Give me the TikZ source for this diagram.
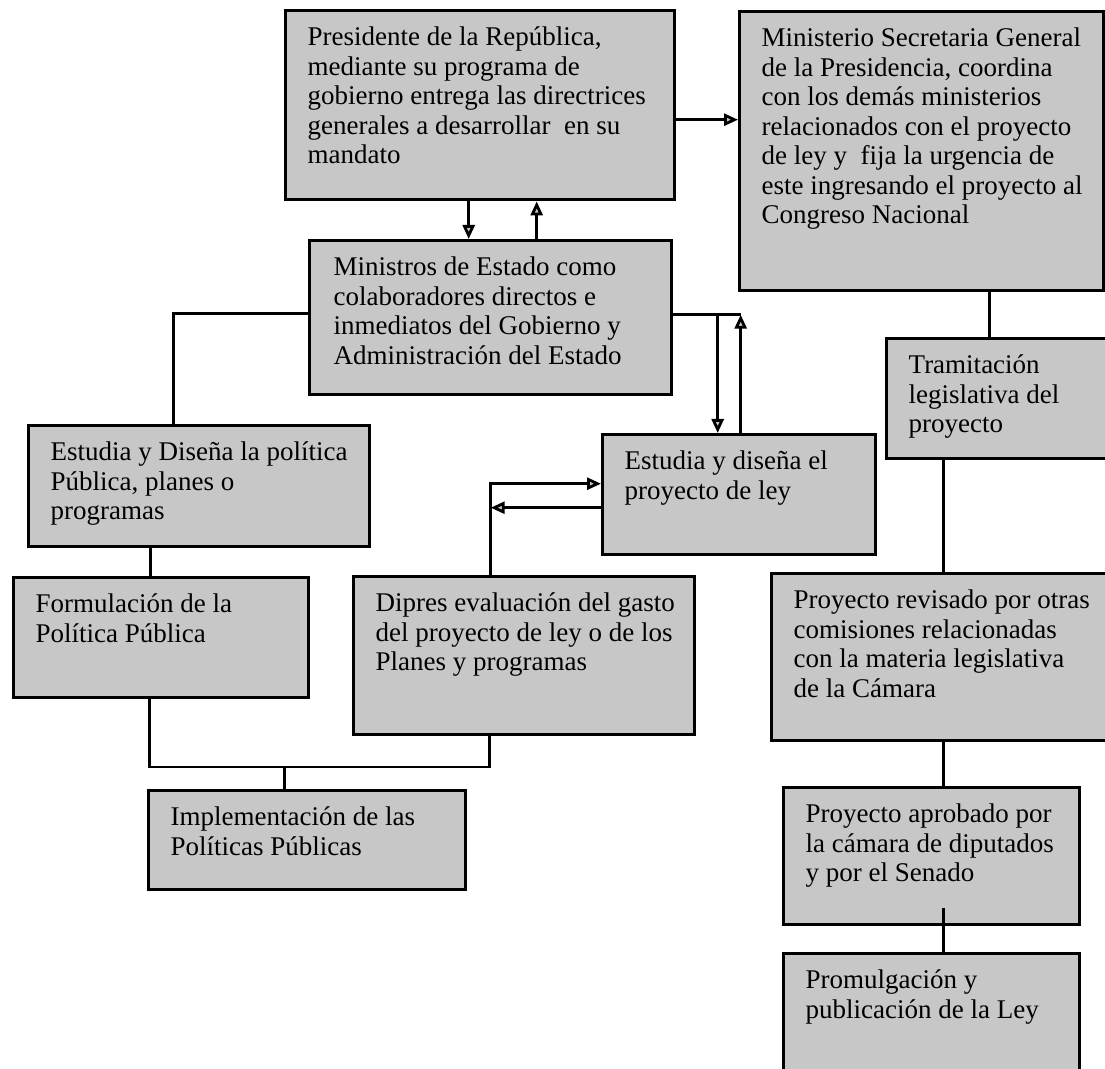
\documentclass[tikz,border=0pt]{standalone}
\usepackage{fontspec}
\setmainfont{Liberation Serif}
\usetikzlibrary{arrows.meta}

\definecolor{boxfill}{gray}{0.78}

% Box contents: width, height, text (top-left aligned, explicit line breaks)
\newcommand\boxtxt[3]{%
  \parbox[c][#2][t]{#1}{\raggedright\leftskip=11pt\relax
    \vspace*{7.5pt}\rule{0pt}{10pt}#3}}

\tikzset{
  bx/.style={draw=black, line width=1.7pt, fill=boxfill, inner sep=0pt,
             anchor=north west, font=\fontsize{13.5}{14.75}\selectfont},
  ln/.style={draw=black, line width=1.4pt},
  arr/.style={ln, -{Triangle[length=7pt,width=6pt,fill=boxfill]}}
}

\begin{document}
\begin{tikzpicture}[x=0.5pt, y=-0.5pt]
\useasboundingbox (0,0) rectangle (1105,1069);
\fill[white] (0,0) rectangle (1105,1069);
\clip (0,0) rectangle (1105,1069);

% ---- boxes ----
\node[bx] (pres) at (284,9) {\boxtxt{194.5pt}{94.5pt}{Presidente de la República,\\
  mediante su programa de\\ gobierno entrega las directrices\\
  generales a desarrollar\ \ en su\\ mandato}};
\node[bx] (mse) at (738,10) {\boxtxt{182pt}{139.5pt}{Ministerio Secretaria General\\
  de la Presidencia, coordina\\ con los demás ministerios\\
  relacionados con el proyecto\\ de ley y\ \ fija la urgencia de\\
  este ingresando el proyecto al\\ Congreso Nacional}};
\node[bx] (mn) at (308,239) {\boxtxt{181pt}{77pt}{\hspace*{1pt}Ministros de Estado como\\
  \hspace*{1pt}colaboradores directos e\\ \hspace*{1pt}inmediatos del Gobierno y\\
  \hspace*{1pt}Administración del Estado}};
\node[bx] (ep) at (27,424) {\boxtxt{170.5pt}{60.5pt}{Estudia y Diseña la política\\
  Pública, planes o\\ programas}};
\node[bx] (epl) at (601,433) {\boxtxt{136.5pt}{60pt}{Estudia y diseña el\\ proyecto de ley}};
\node[bx] (tra) at (885,337) {\boxtxt{115pt}{60pt}{Tramitación\\ legislativa del\\ proyecto}};
\node[bx] (fp) at (12,576) {\boxtxt{147.5pt}{60pt}{Formulación de la\\ Política Pública}};
\node[bx] (dip) at (352,575) {\boxtxt{170.5pt}{79pt}{Dipres evaluación del gasto\\
  del proyecto de ley o de los\\ Planes y programas}};
\node[bx] (imp) at (147,789) {\boxtxt{158.5pt}{49.5pt}{Implementación de las\\ Políticas Públicas}};
\node[bx] (rev) at (770,572) {\boxtxt{172pt}{83.5pt}{Proyecto revisado por otras\\
  comisiones relacionadas\\ con la materia legislativa\\ de la Cámara}};
\node[bx] (apr) at (782,786) {\boxtxt{148pt}{68.5pt}{Proyecto aprobado por\\
  la cámara de diputados\\ y por el Senado}};
\node[bx] (pro) at (782,952) {\boxtxt{148pt}{70pt}{Promulgación y\\ publicación de la Ley}};

% ---- connectors ----
% President to Secretaría General
\draw[arr] ([yshift=-7.25pt]pres.east) -- ([yshift=-7.25pt]pres.east -| mse.west);
% President <-> Ministros
\draw[arr] ([xshift=-5.75pt]pres.south) -- ([xshift=-5.75pt]pres.south |- mn.north);
\draw[arr] ([xshift=28.25pt]pres.south |- mn.north) -- ([xshift=28.25pt]pres.south);
% Ministros to policy design
\draw[ln] ([yshift=2pt]mn.west) -| ([xshift=-12.75pt]ep.north);
% Ministros <-> bill design
\coordinate (upx) at ([xshift=0.75pt]epl.north);
\coordinate (dnx) at ([xshift=-10.75pt]epl.north);
\coordinate (mr) at ([yshift=1.5pt]mn.east);
\draw[ln] (mr) -- (mr -| upx);
\draw[arr] (mr -| dnx) -- (dnx);
\draw[arr] (upx) -- (mr -| upx);
% Dipres <-> bill design
\coordinate (dv) at ([xshift=-16.75pt]dip.north);
\coordinate (eu) at ([yshift=5.5pt]epl.west);
\coordinate (el) at ([yshift=-6.5pt]epl.west);
\draw[arr] (dv) |- (eu);
\draw[arr] (el) -- (el -| dv);
% policy design to formulation
\draw[ln] ([xshift=-24.25pt]ep.south) -- ([xshift=-24.25pt]ep.south |- fp.north);
% formulation and Dipres joined to implementation
\coordinate (bus) at ([yshift=11pt]imp.north);
\coordinate (fs) at ([xshift=-5.75pt]fp.south);
\coordinate (ds) at ([xshift=-17.25pt]dip.south);
\draw[ln] (fs) |- (bus) -| (ds);
\draw[ln] ([xshift=-11.25pt]imp.north) -- ([xshift=-11.25pt]imp.north |- bus);
% legislative chain
\draw[ln] ([xshift=34pt]mse.south) -- ([xshift=34pt]mse.south |- tra.north);
\draw[ln] (rev.north |- tra.south) -- (rev.north);
\draw[ln] (rev.south) -- (rev.south |- apr.north);
\coordinate (as) at (rev.south |- apr.south);
\draw[ln] ([yshift=9pt]as) -- (rev.south |- pro.north);
\end{tikzpicture}
\end{document}
